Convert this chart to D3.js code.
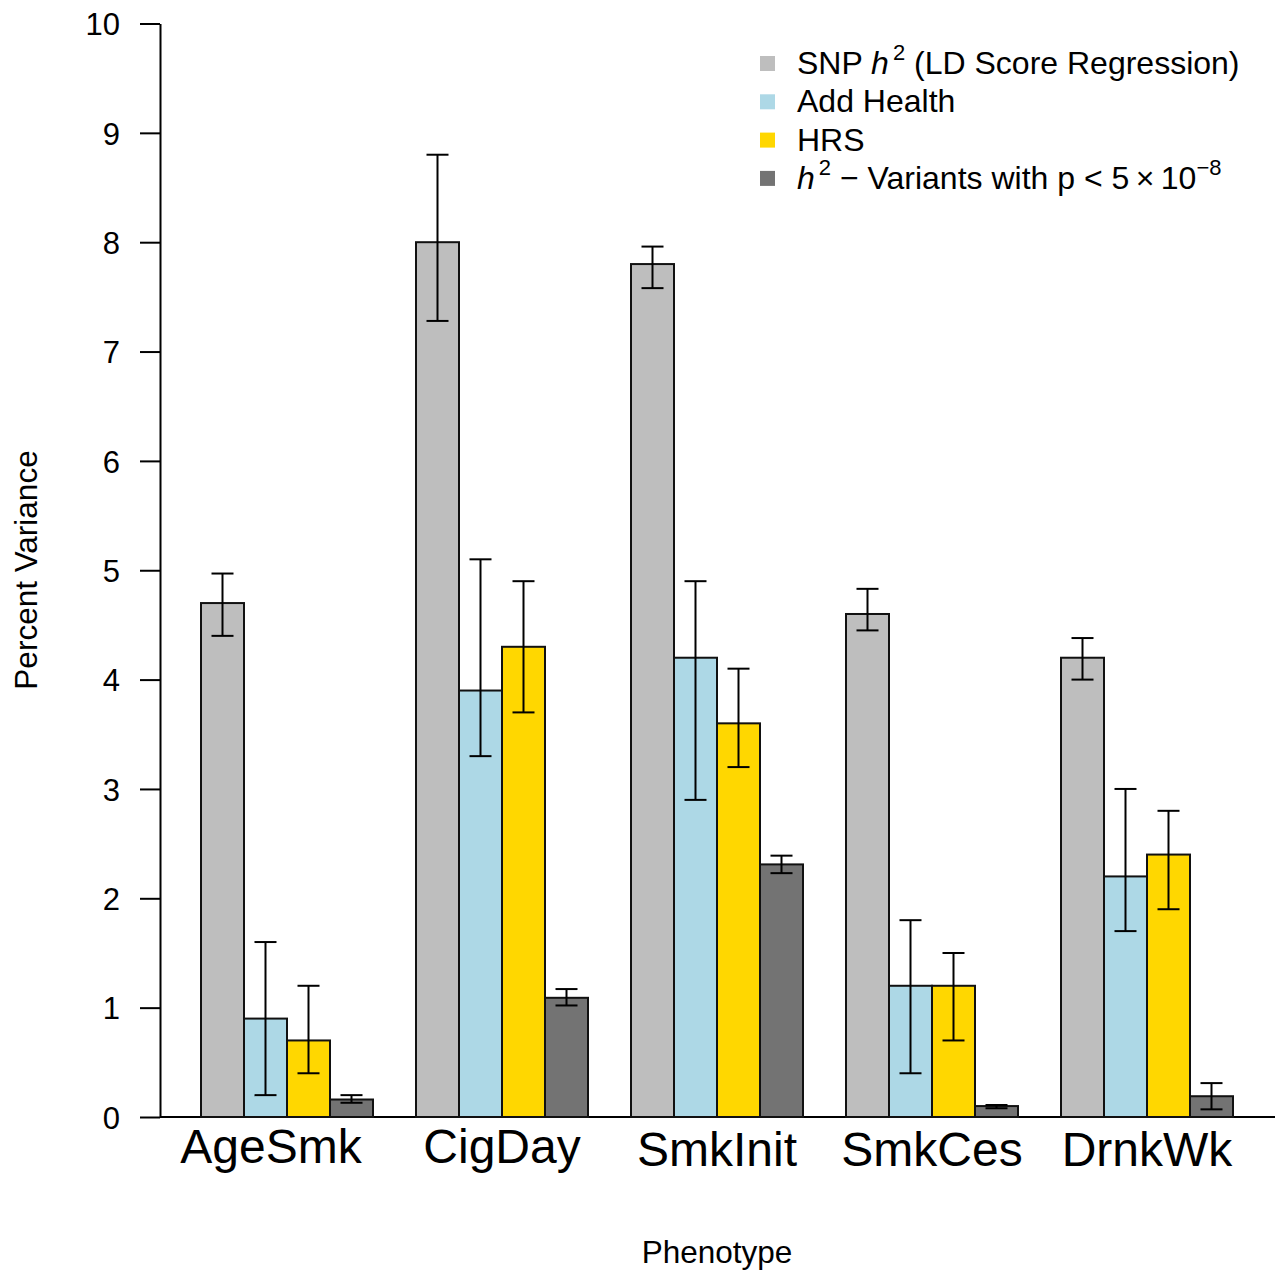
<!DOCTYPE html>
<html>
<head>
<meta charset="utf-8">
<script src="https://cdn.jsdelivr.net/npm/d3@7"></script>
<style>
  body { margin: 0; background: #fff; }
  svg { font-family: "Liberation Sans", Arial, Helvetica, sans-serif; }
  .axis text { font-size: 31px; fill: #000; }
  .axis path, .axis line { stroke: #000; stroke-width: 2px; }
</style>
</head>
<body>
<div class="chart"></div>
<script>
// data
const phenotypes = ["AgeSmk", "CigDay", "SmkInit", "SmkCes", "DrnkWk"];
const seriesKeys = ["snp", "addHealth", "hrs", "gwsig"];
const seriesColors = ["#bebebe", "#add8e6", "#ffd700", "#737373"];

const snpVal = [4.70, 8.00, 7.80, 4.60, 4.20];
const snpLo  = [4.40, 7.28, 7.58, 4.45, 4.00];
const snpHi  = [4.97, 8.80, 7.96, 4.83, 4.38];

const addHealthVal = [0.90, 3.90, 4.20, 1.20, 2.20];
const addHealthLo  = [0.20, 3.30, 2.90, 0.40, 1.70];
const addHealthHi  = [1.60, 5.10, 4.90, 1.80, 3.00];

const hrsVal = [0.70, 4.30, 3.60, 1.20, 2.40];
const hrsLo  = [0.40, 3.70, 3.20, 0.70, 1.90];
const hrsHi  = [1.20, 4.90, 4.10, 1.50, 2.80];

const gwsigVal = [0.16, 1.09, 2.31, 0.10, 0.19];
const gwsigLo  = [0.13, 1.02, 2.23, 0.08, 0.07];
const gwsigHi  = [0.20, 1.17, 2.39, 0.11, 0.31];

const yTicks = [0, 1, 2, 3, 4, 5, 6, 7, 8, 9, 10];

const vals = [snpVal, addHealthVal, hrsVal, gwsigVal];
const los = [snpLo, addHealthLo, hrsLo, gwsigLo];
const his = [snpHi, addHealthHi, hrsHi, gwsigHi];

const barData = [];
phenotypes.forEach((p, i) => {
    seriesKeys.forEach((s, k) => {
        barData.push({pheno: p, key: s, color: seriesColors[k], val: vals[k][i], lo: los[k][i], hi: his[k][i]});
    });
});

const svg_width = 1280;
const svg_height = 1271;

const svg = d3.select('.chart').append('svg')
    .attr('width', svg_width).attr('height', svg_height);

// scales
const yScale = d3.scaleLinear([0, 10], [1117, 23.5]);
const xGroup = d3.scaleBand().domain(phenotypes)
    .range([201, 1233]).paddingInner(0.2).paddingOuter(0);
const xSeries = d3.scaleBand().domain(seriesKeys)
    .range([0, xGroup.bandwidth()]).padding(0);

// baseline across plot
svg.append('line')
    .attr('x1', 160).attr('x2', 1275)
    .attr('y1', yScale(0)).attr('y2', yScale(0))
    .attr('stroke', '#000').attr('stroke-width', 2);

// y axis
const yAxis = d3.axisLeft(yScale).tickValues(yTicks)
    .tickSizeInner(20).tickSizeOuter(0).tickPadding(20)
    .tickFormat(d3.format('d'));
const yAxisDraw = svg.append('g').attr('class', 'y axis')
    .attr('transform', 'translate(160,0)')
    .call(yAxis);
yAxisDraw.selectAll('text').attr('dy', '0.36em');

// bars
const bars = svg.append('g').attr('class', 'bars')
    .selectAll('.bar')
    .data(barData)
    .enter()
    .append('rect')
    .attr('class', 'bar')
    .attr('x', d => xGroup(d.pheno) + xSeries(d.key))
    .attr('y', d => yScale(d.val))
    .attr('width', xSeries.bandwidth())
    .attr('height', d => yScale(0) - yScale(d.val))
    .style('fill', d => d.color)
    .style('stroke', '#111')
    .style('stroke-width', 2);

// error bars
const capW = 11;
const errs = svg.append('g').attr('class', 'errs')
    .selectAll('g')
    .data(barData)
    .enter()
    .append('g')
    .attr('transform', d => `translate(${xGroup(d.pheno) + xSeries(d.key) + xSeries.bandwidth() / 2},0)`)
    .style('stroke', '#000').style('stroke-width', 2);
errs.append('line').attr('x1', 0).attr('x2', 0)
    .attr('y1', d => yScale(d.lo)).attr('y2', d => yScale(d.hi));
errs.append('line').attr('x1', -capW).attr('x2', capW)
    .attr('y1', d => yScale(d.lo)).attr('y2', d => yScale(d.lo));
errs.append('line').attr('x1', -capW).attr('x2', capW)
    .attr('y1', d => yScale(d.hi)).attr('y2', d => yScale(d.hi));

// category labels
svg.append('g').attr('class', 'x labels')
    .selectAll('text')
    .data(phenotypes)
    .enter()
    .append('text')
    .attr('x', d => xGroup(d) + xGroup.bandwidth() / 2 - (d === 'AgeSmk' ? 16 : 0))
    .attr('y', d => /[gjpqy]/.test(d) ? 1163 : 1166)
    .attr('text-anchor', 'middle')
    .style('font-size', '48px')
    .text(d => d);

// axis titles
svg.append('text')
    .attr('x', 717).attr('y', 1263)
    .attr('text-anchor', 'middle')
    .style('font-size', '31.5px')
    .text('Phenotype');

svg.append('text')
    .attr('transform', 'rotate(-90)')
    .attr('x', -570).attr('y', 37)
    .attr('text-anchor', 'middle')
    .style('font-size', '31.5px')
    .text('Percent Variance');

// legend
const legend = svg.append('g').attr('class', 'legend')
    .attr('transform', 'translate(760,74)');
const rowH = 38.3;
const fs = '32px';
const sup = '22px';
seriesColors.forEach((c, i) => {
    legend.append('rect')
        .attr('x', 0).attr('y', i * rowH - 18)
        .attr('width', 15).attr('height', 15)
        .style('fill', c);
});

const l1 = legend.append('text').attr('x', 37).attr('y', 0).style('font-size', fs);
l1.append('tspan').text('SNP ');
l1.append('tspan').style('font-style', 'italic').text('h');
l1.append('tspan').attr('dx', 4).attr('dy', -14).style('font-size', sup).text('2');
l1.append('tspan').attr('dy', 14).text(' (LD Score Regression)');

legend.append('text').attr('x', 37).attr('y', rowH).style('font-size', fs).text('Add Health');
legend.append('text').attr('x', 37).attr('y', rowH * 2).style('font-size', fs).text('HRS');

const l4 = legend.append('text').attr('x', 37).attr('y', rowH * 3).style('font-size', fs);
l4.append('tspan').style('font-style', 'italic').text('h');
l4.append('tspan').attr('dx', 4).attr('dy', -14).style('font-size', sup).text('2');
l4.append('tspan').attr('dy', 14).text(' \u2212 Variants with p < 5\u2009\u00d7\u200910');
l4.append('tspan').attr('dy', -14).style('font-size', sup).text('\u22128');
</script>
</body>
</html>
